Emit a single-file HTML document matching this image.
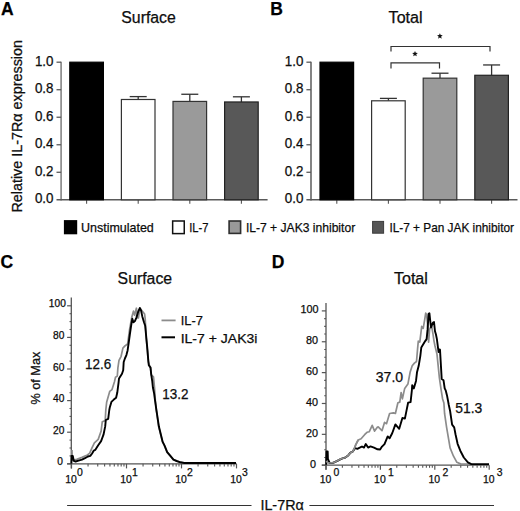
<!DOCTYPE html>
<html><head><meta charset="utf-8"><style>
html,body{margin:0;padding:0;background:#fff;}
svg{display:block;}
svg text{font-family:"Liberation Sans",sans-serif;stroke:currentColor;stroke-width:0.25px;}
</style></head><body>
<svg width="520" height="511" viewBox="0 0 520 511">
<rect width="520" height="511" fill="#fff"/>
<text x="1.0" y="14.8" font-size="17.5" text-anchor="start" font-weight="bold" fill="#000" >A</text>
<text x="270.2" y="14.8" font-size="17.5" text-anchor="start" font-weight="bold" fill="#000" >B</text>
<text x="0.6" y="267.6" font-size="17.5" text-anchor="start" font-weight="bold" fill="#000" >C</text>
<text x="271.8" y="267.6" font-size="17.5" text-anchor="start" font-weight="bold" fill="#000" >D</text>
<text x="121.3" y="22.5" font-size="16" text-anchor="start" font-weight="normal" fill="#111" textLength="54.5" lengthAdjust="spacingAndGlyphs" >Surface</text>
<text x="388.6" y="22.7" font-size="16" text-anchor="start" font-weight="normal" fill="#111" textLength="34" lengthAdjust="spacingAndGlyphs" >Total</text>
<text x="117.6" y="283.6" font-size="16" text-anchor="start" font-weight="normal" fill="#111" textLength="54.5" lengthAdjust="spacingAndGlyphs" >Surface</text>
<text x="393.9" y="283.6" font-size="16" text-anchor="start" font-weight="normal" fill="#111" textLength="34" lengthAdjust="spacingAndGlyphs" >Total</text>
<line x1="61.1" y1="61.70000000000002" x2="61.1" y2="200.5" stroke="#858585" stroke-width="1.6"/>
<line x1="56.5" y1="199.8" x2="267.6" y2="199.8" stroke="#5a5a5a" stroke-width="1.4"/>
<line x1="56.5" y1="62.20000000000002" x2="61.1" y2="62.20000000000002" stroke="#5a5a5a" stroke-width="1.3"/>
<line x1="56.5" y1="89.72000000000001" x2="61.1" y2="89.72000000000001" stroke="#5a5a5a" stroke-width="1.3"/>
<line x1="56.5" y1="117.24000000000002" x2="61.1" y2="117.24000000000002" stroke="#5a5a5a" stroke-width="1.3"/>
<line x1="56.5" y1="144.76000000000002" x2="61.1" y2="144.76000000000002" stroke="#5a5a5a" stroke-width="1.3"/>
<line x1="56.5" y1="172.28" x2="61.1" y2="172.28" stroke="#5a5a5a" stroke-width="1.3"/>
<text x="34.900000000000006" y="65.70000000000002" font-size="14.6" text-anchor="start" font-weight="normal" fill="#111" textLength="18.6" lengthAdjust="spacingAndGlyphs" >1.0</text>
<text x="34.900000000000006" y="93.22000000000001" font-size="14.6" text-anchor="start" font-weight="normal" fill="#111" textLength="18.6" lengthAdjust="spacingAndGlyphs" >0.8</text>
<text x="34.900000000000006" y="120.74000000000002" font-size="14.6" text-anchor="start" font-weight="normal" fill="#111" textLength="18.6" lengthAdjust="spacingAndGlyphs" >0.6</text>
<text x="34.900000000000006" y="148.26000000000002" font-size="14.6" text-anchor="start" font-weight="normal" fill="#111" textLength="18.6" lengthAdjust="spacingAndGlyphs" >0.4</text>
<text x="34.900000000000006" y="175.78" font-size="14.6" text-anchor="start" font-weight="normal" fill="#111" textLength="18.6" lengthAdjust="spacingAndGlyphs" >0.2</text>
<text x="34.900000000000006" y="203.3" font-size="14.6" text-anchor="start" font-weight="normal" fill="#111" textLength="18.6" lengthAdjust="spacingAndGlyphs" >0.0</text>
<line x1="86.6" y1="199.8" x2="86.6" y2="203.8" stroke="#555" stroke-width="1.1"/>
<rect x="69.8" y="62.20000000000002" width="33.599999999999994" height="137.6" fill="#000" stroke="#000" stroke-width="1.2"/>
<line x1="138.20000000000002" y1="199.8" x2="138.20000000000002" y2="203.8" stroke="#555" stroke-width="1.1"/>
<line x1="138.20000000000002" y1="99.48960000000002" x2="138.20000000000002" y2="96.60000000000002" stroke="#333" stroke-width="1.3"/>
<line x1="129.70000000000002" y1="96.60000000000002" x2="146.70000000000002" y2="96.60000000000002" stroke="#333" stroke-width="1.3"/>
<rect x="121.4" y="99.48960000000002" width="33.599999999999994" height="100.31039999999999" fill="#fff" stroke="#333" stroke-width="1.2"/>
<line x1="189.8" y1="199.8" x2="189.8" y2="203.8" stroke="#555" stroke-width="1.1"/>
<line x1="189.8" y1="101.41600000000003" x2="189.8" y2="94.26080000000002" stroke="#333" stroke-width="1.3"/>
<line x1="181.3" y1="94.26080000000002" x2="198.3" y2="94.26080000000002" stroke="#333" stroke-width="1.3"/>
<rect x="173.0" y="101.41600000000003" width="33.599999999999994" height="98.38399999999999" fill="#9a9a9a" stroke="#333" stroke-width="1.2"/>
<line x1="241.4" y1="199.8" x2="241.4" y2="203.8" stroke="#555" stroke-width="1.1"/>
<line x1="241.4" y1="101.96640000000002" x2="241.4" y2="96.80640000000002" stroke="#333" stroke-width="1.3"/>
<line x1="232.9" y1="96.80640000000002" x2="249.9" y2="96.80640000000002" stroke="#333" stroke-width="1.3"/>
<rect x="224.6" y="101.96640000000002" width="33.599999999999994" height="97.83359999999999" fill="#585858" stroke="#222" stroke-width="1.2"/>
<line x1="311.0" y1="61.70000000000002" x2="311.0" y2="200.5" stroke="#666" stroke-width="1.6"/>
<line x1="306.4" y1="199.8" x2="517.5" y2="199.8" stroke="#5a5a5a" stroke-width="1.4"/>
<line x1="306.4" y1="62.20000000000002" x2="311.0" y2="62.20000000000002" stroke="#5a5a5a" stroke-width="1.3"/>
<line x1="306.4" y1="89.72000000000001" x2="311.0" y2="89.72000000000001" stroke="#5a5a5a" stroke-width="1.3"/>
<line x1="306.4" y1="117.24000000000002" x2="311.0" y2="117.24000000000002" stroke="#5a5a5a" stroke-width="1.3"/>
<line x1="306.4" y1="144.76000000000002" x2="311.0" y2="144.76000000000002" stroke="#5a5a5a" stroke-width="1.3"/>
<line x1="306.4" y1="172.28" x2="311.0" y2="172.28" stroke="#5a5a5a" stroke-width="1.3"/>
<text x="284.8" y="65.70000000000002" font-size="14.6" text-anchor="start" font-weight="normal" fill="#111" textLength="18.6" lengthAdjust="spacingAndGlyphs" >1.0</text>
<text x="284.8" y="93.22000000000001" font-size="14.6" text-anchor="start" font-weight="normal" fill="#111" textLength="18.6" lengthAdjust="spacingAndGlyphs" >0.8</text>
<text x="284.8" y="120.74000000000002" font-size="14.6" text-anchor="start" font-weight="normal" fill="#111" textLength="18.6" lengthAdjust="spacingAndGlyphs" >0.6</text>
<text x="284.8" y="148.26000000000002" font-size="14.6" text-anchor="start" font-weight="normal" fill="#111" textLength="18.6" lengthAdjust="spacingAndGlyphs" >0.4</text>
<text x="284.8" y="175.78" font-size="14.6" text-anchor="start" font-weight="normal" fill="#111" textLength="18.6" lengthAdjust="spacingAndGlyphs" >0.2</text>
<text x="284.8" y="203.3" font-size="14.6" text-anchor="start" font-weight="normal" fill="#111" textLength="18.6" lengthAdjust="spacingAndGlyphs" >0.0</text>
<line x1="336.79999999999995" y1="199.8" x2="336.79999999999995" y2="203.8" stroke="#555" stroke-width="1.1"/>
<rect x="320.0" y="62.20000000000002" width="33.599999999999994" height="137.6" fill="#000" stroke="#000" stroke-width="1.2"/>
<line x1="388.4" y1="199.8" x2="388.4" y2="203.8" stroke="#555" stroke-width="1.1"/>
<line x1="388.4" y1="100.7968" x2="388.4" y2="98.38880000000002" stroke="#333" stroke-width="1.3"/>
<line x1="379.9" y1="98.38880000000002" x2="396.9" y2="98.38880000000002" stroke="#333" stroke-width="1.3"/>
<rect x="371.6" y="100.7968" width="33.599999999999994" height="99.0032" fill="#fff" stroke="#333" stroke-width="1.2"/>
<line x1="439.99999999999994" y1="199.8" x2="439.99999999999994" y2="203.8" stroke="#555" stroke-width="1.1"/>
<line x1="439.99999999999994" y1="78.16160000000002" x2="439.99999999999994" y2="73.20800000000001" stroke="#333" stroke-width="1.3"/>
<line x1="431.49999999999994" y1="73.20800000000001" x2="448.49999999999994" y2="73.20800000000001" stroke="#333" stroke-width="1.3"/>
<rect x="423.2" y="78.16160000000002" width="33.599999999999994" height="121.63839999999999" fill="#9a9a9a" stroke="#333" stroke-width="1.2"/>
<line x1="491.59999999999997" y1="199.8" x2="491.59999999999997" y2="203.8" stroke="#555" stroke-width="1.1"/>
<line x1="491.59999999999997" y1="75.27200000000002" x2="491.59999999999997" y2="64.95200000000003" stroke="#333" stroke-width="1.3"/>
<line x1="483.09999999999997" y1="64.95200000000003" x2="500.09999999999997" y2="64.95200000000003" stroke="#333" stroke-width="1.3"/>
<rect x="474.8" y="75.27200000000002" width="33.599999999999994" height="124.52799999999999" fill="#585858" stroke="#222" stroke-width="1.2"/>
<path d="M391,51.5 V46.5 H490 V51.5" fill="none" stroke="#333" stroke-width="1.2"/>
<path d="M391,68.5 V62.8 H439.5 V68.5" fill="none" stroke="#333" stroke-width="1.2"/>
<polygon points="439.90,33.20 440.69,35.11 442.75,35.27 441.18,36.62 441.66,38.63 439.90,37.55 438.14,38.63 438.62,36.62 437.05,35.27 439.11,35.11" fill="#111"/>
<polygon points="415.00,50.90 415.79,52.81 417.85,52.97 416.28,54.32 416.76,56.33 415.00,55.25 413.24,56.33 413.72,54.32 412.15,52.97 414.21,52.81" fill="#111"/>
<text transform="translate(21.8,212.6) rotate(-90)" x="0" y="0" font-size="14" fill="#111" textLength="172.6" lengthAdjust="spacingAndGlyphs">Relative IL-7Rα expression</text>
<rect x="63.9" y="220.1" width="13.3" height="14.2" fill="#000"/>
<text x="81" y="232.4" font-size="13" text-anchor="start" font-weight="normal" fill="#111" textLength="72.8" lengthAdjust="spacingAndGlyphs" >Unstimulated</text>
<rect x="172.65" y="221.0" width="11.6" height="12.6" fill="#fff" stroke="#111" stroke-width="1.5"/>
<text x="189.2" y="232.4" font-size="13" text-anchor="start" font-weight="normal" fill="#111" textLength="19.2" lengthAdjust="spacingAndGlyphs" >IL-7</text>
<rect x="229.1" y="221.0" width="11.5" height="12.4" fill="#999" stroke="#2e2e2e" stroke-width="1.6"/>
<text x="245.9" y="232.4" font-size="13" text-anchor="start" font-weight="normal" fill="#111" textLength="109.3" lengthAdjust="spacingAndGlyphs" >IL-7 + JAK3 inhibitor</text>
<rect x="372.6" y="221.4" width="11.0" height="11.8" fill="#555" stroke="#3c3c3c" stroke-width="1"/>
<text x="389.4" y="232.4" font-size="13" text-anchor="start" font-weight="normal" fill="#111" textLength="124.6" lengthAdjust="spacingAndGlyphs" >IL-7 + Pan JAK inhibitor</text>
<line x1="71.3" y1="297.5" x2="71.3" y2="468.40000000000003" stroke="#555" stroke-width="1.3"/>
<line x1="67.1" y1="463.8" x2="236.6" y2="463.8" stroke="#555" stroke-width="1.3"/>
<line x1="67.1" y1="463.8" x2="71.3" y2="463.8" stroke="#555" stroke-width="1.2"/>
<text x="63.00000000000001" y="465.40000000000003" font-size="10.2" text-anchor="end" font-weight="normal" fill="#111" >0</text>
<line x1="69.5" y1="455.90000000000003" x2="71.3" y2="455.90000000000003" stroke="#555" stroke-width="1.1"/>
<line x1="69.5" y1="448.0" x2="71.3" y2="448.0" stroke="#555" stroke-width="1.1"/>
<line x1="69.5" y1="440.1" x2="71.3" y2="440.1" stroke="#555" stroke-width="1.1"/>
<line x1="67.1" y1="432.2" x2="71.3" y2="432.2" stroke="#555" stroke-width="1.2"/>
<text x="64.4" y="433.8" font-size="10.2" text-anchor="end" font-weight="normal" fill="#111" >20</text>
<line x1="69.5" y1="424.3" x2="71.3" y2="424.3" stroke="#555" stroke-width="1.1"/>
<line x1="69.5" y1="416.4" x2="71.3" y2="416.4" stroke="#555" stroke-width="1.1"/>
<line x1="69.5" y1="408.5" x2="71.3" y2="408.5" stroke="#555" stroke-width="1.1"/>
<line x1="67.1" y1="400.6" x2="71.3" y2="400.6" stroke="#555" stroke-width="1.2"/>
<text x="64.4" y="402.20000000000005" font-size="10.2" text-anchor="end" font-weight="normal" fill="#111" >40</text>
<line x1="69.5" y1="392.7" x2="71.3" y2="392.7" stroke="#555" stroke-width="1.1"/>
<line x1="69.5" y1="384.8" x2="71.3" y2="384.8" stroke="#555" stroke-width="1.1"/>
<line x1="69.5" y1="376.9" x2="71.3" y2="376.9" stroke="#555" stroke-width="1.1"/>
<line x1="67.1" y1="369.0" x2="71.3" y2="369.0" stroke="#555" stroke-width="1.2"/>
<text x="64.4" y="370.6" font-size="10.2" text-anchor="end" font-weight="normal" fill="#111" >60</text>
<line x1="69.5" y1="361.1" x2="71.3" y2="361.1" stroke="#555" stroke-width="1.1"/>
<line x1="69.5" y1="353.2" x2="71.3" y2="353.2" stroke="#555" stroke-width="1.1"/>
<line x1="69.5" y1="345.3" x2="71.3" y2="345.3" stroke="#555" stroke-width="1.1"/>
<line x1="67.1" y1="337.4" x2="71.3" y2="337.4" stroke="#555" stroke-width="1.2"/>
<text x="64.4" y="339.0" font-size="10.2" text-anchor="end" font-weight="normal" fill="#111" >80</text>
<line x1="69.5" y1="329.5" x2="71.3" y2="329.5" stroke="#555" stroke-width="1.1"/>
<line x1="69.5" y1="321.6" x2="71.3" y2="321.6" stroke="#555" stroke-width="1.1"/>
<line x1="69.5" y1="313.70000000000005" x2="71.3" y2="313.70000000000005" stroke="#555" stroke-width="1.1"/>
<line x1="67.1" y1="305.8" x2="71.3" y2="305.8" stroke="#555" stroke-width="1.2"/>
<text x="65.80000000000001" y="307.40000000000003" font-size="10.2" text-anchor="end" font-weight="normal" fill="#111" >100</text>
<line x1="88.05664976151897" y1="463.8" x2="88.05664976151897" y2="466.40000000000003" stroke="#555" stroke-width="1.1"/>
<line x1="97.74166900958143" y1="463.8" x2="97.74166900958143" y2="466.40000000000003" stroke="#555" stroke-width="1.1"/>
<line x1="104.61329952303794" y1="463.8" x2="104.61329952303794" y2="466.40000000000003" stroke="#555" stroke-width="1.1"/>
<line x1="109.94335023848103" y1="463.8" x2="109.94335023848103" y2="466.40000000000003" stroke="#555" stroke-width="1.1"/>
<line x1="114.2983187711004" y1="463.8" x2="114.2983187711004" y2="466.40000000000003" stroke="#555" stroke-width="1.1"/>
<line x1="117.98039220078412" y1="463.8" x2="117.98039220078412" y2="466.40000000000003" stroke="#555" stroke-width="1.1"/>
<line x1="121.16994928455689" y1="463.8" x2="121.16994928455689" y2="466.40000000000003" stroke="#555" stroke-width="1.1"/>
<line x1="123.98333801916286" y1="463.8" x2="123.98333801916286" y2="466.40000000000003" stroke="#555" stroke-width="1.1"/>
<line x1="143.05664976151897" y1="463.8" x2="143.05664976151897" y2="466.40000000000003" stroke="#555" stroke-width="1.1"/>
<line x1="152.74166900958141" y1="463.8" x2="152.74166900958141" y2="466.40000000000003" stroke="#555" stroke-width="1.1"/>
<line x1="159.61329952303794" y1="463.8" x2="159.61329952303794" y2="466.40000000000003" stroke="#555" stroke-width="1.1"/>
<line x1="164.94335023848103" y1="463.8" x2="164.94335023848103" y2="466.40000000000003" stroke="#555" stroke-width="1.1"/>
<line x1="169.2983187711004" y1="463.8" x2="169.2983187711004" y2="466.40000000000003" stroke="#555" stroke-width="1.1"/>
<line x1="172.98039220078414" y1="463.8" x2="172.98039220078414" y2="466.40000000000003" stroke="#555" stroke-width="1.1"/>
<line x1="176.16994928455688" y1="463.8" x2="176.16994928455688" y2="466.40000000000003" stroke="#555" stroke-width="1.1"/>
<line x1="178.98333801916286" y1="463.8" x2="178.98333801916286" y2="466.40000000000003" stroke="#555" stroke-width="1.1"/>
<line x1="198.05664976151897" y1="463.8" x2="198.05664976151897" y2="466.40000000000003" stroke="#555" stroke-width="1.1"/>
<line x1="207.74166900958144" y1="463.8" x2="207.74166900958144" y2="466.40000000000003" stroke="#555" stroke-width="1.1"/>
<line x1="214.61329952303794" y1="463.8" x2="214.61329952303794" y2="466.40000000000003" stroke="#555" stroke-width="1.1"/>
<line x1="219.94335023848103" y1="463.8" x2="219.94335023848103" y2="466.40000000000003" stroke="#555" stroke-width="1.1"/>
<line x1="224.2983187711004" y1="463.8" x2="224.2983187711004" y2="466.40000000000003" stroke="#555" stroke-width="1.1"/>
<line x1="227.98039220078414" y1="463.8" x2="227.98039220078414" y2="466.40000000000003" stroke="#555" stroke-width="1.1"/>
<line x1="231.1699492845569" y1="463.8" x2="231.1699492845569" y2="466.40000000000003" stroke="#555" stroke-width="1.1"/>
<line x1="233.98333801916286" y1="463.8" x2="233.98333801916286" y2="466.40000000000003" stroke="#555" stroke-width="1.1"/>
<line x1="71.5" y1="463.8" x2="71.5" y2="468.40000000000003" stroke="#555" stroke-width="1.2"/>
<text x="65.2" y="483.3" font-size="11" text-anchor="start" font-weight="normal" fill="#111" textLength="11.6" lengthAdjust="spacingAndGlyphs" >10</text>
<text x="77.1" y="476.4" font-size="11" text-anchor="start" font-weight="normal" fill="#111" textLength="5.8" lengthAdjust="spacingAndGlyphs" >0</text>
<line x1="126.5" y1="463.8" x2="126.5" y2="468.40000000000003" stroke="#555" stroke-width="1.2"/>
<text x="120.2" y="483.3" font-size="11" text-anchor="start" font-weight="normal" fill="#111" textLength="11.6" lengthAdjust="spacingAndGlyphs" >10</text>
<text x="132.1" y="476.4" font-size="11" text-anchor="start" font-weight="normal" fill="#111" textLength="5.8" lengthAdjust="spacingAndGlyphs" >1</text>
<line x1="181.5" y1="463.8" x2="181.5" y2="468.40000000000003" stroke="#555" stroke-width="1.2"/>
<text x="175.2" y="483.3" font-size="11" text-anchor="start" font-weight="normal" fill="#111" textLength="11.6" lengthAdjust="spacingAndGlyphs" >10</text>
<text x="187.1" y="476.4" font-size="11" text-anchor="start" font-weight="normal" fill="#111" textLength="5.8" lengthAdjust="spacingAndGlyphs" >2</text>
<line x1="236.5" y1="463.8" x2="236.5" y2="468.40000000000003" stroke="#555" stroke-width="1.2"/>
<text x="230.2" y="483.3" font-size="11" text-anchor="start" font-weight="normal" fill="#111" textLength="11.6" lengthAdjust="spacingAndGlyphs" >10</text>
<text x="242.1" y="476.4" font-size="11" text-anchor="start" font-weight="normal" fill="#111" textLength="5.8" lengthAdjust="spacingAndGlyphs" >3</text>
<path d="M72.0,450.0 L72.3,460.5 L73.2,460.0 L76.8,459.4 L82.0,457.4 L87.4,455.0 L89.7,453.2 L92.1,447.6 L94.4,442.9 L98.2,439.4 L101.1,431.1 L102.3,421.7 L105.2,420.6 L105.8,410.0 L106.7,401.9 L109.7,391.4 L112.0,389.6 L114.4,382.0 L115.5,377.3 L117.3,376.1 L117.9,367.9 L119.0,360.3 L121.1,356.3 L122.9,348.1 L125.2,345.7 L127.6,344.0 L129.5,330.0 L131.7,317.6 L133.5,311.1 L134.6,315.2 L136.4,308.2 L137.6,318.0 L138.4,318.0 L139.9,308.2 L142.8,311.7 L144.6,314.0 L145.2,318.8 L146.2,338.0 L147.3,350.0 L148.3,362.0 L150.3,368.0 L151.3,375.0 L153.5,377.0 L154.5,387.5 L155.3,400.0 L156.3,410.0 L158.7,426.6 L160.6,434.3 L162.5,441.9 L164.4,445.7 L167.0,452.1 L170.2,455.9 L173.3,459.7 L176.5,461.0 L180.3,462.3 L184.4,463.0" fill="none" stroke="#8c8c8c" stroke-width="1.7" stroke-linejoin="round"/>
<path d="M71.4,463.5 L71.6,456.0 L72.8,456.0 L73.8,460.9 L75.6,461.5 L78.5,460.6 L82.0,459.7 L85.0,458.2 L87.9,456.5 L90.3,455.9 L92.1,453.5 L93.8,450.6 L95.2,449.9 L98.2,445.2 L101.1,441.1 L103.5,434.7 L105.2,426.4 L105.8,420.0 L108.2,418.8 L109.3,410.0 L109.7,407.8 L111.4,401.9 L113.8,399.6 L116.1,397.8 L117.3,392.5 L118.5,383.2 L119.0,378.5 L122.0,373.8 L123.2,370.2 L123.7,362.0 L124.9,358.5 L126.4,355.1 L127.6,350.4 L128.8,342.2 L129.9,334.0 L131.1,325.8 L132.3,318.8 L133.5,322.3 L134.9,321.1 L136.4,317.6 L138.2,311.7 L139.9,308.0 L141.1,310.6 L142.3,316.4 L144.0,322.3 L145.2,325.8 L146.4,338.7 L147.5,350.4 L148.2,359.4 L148.8,365.2 L150.6,367.6 L151.1,373.5 L152.3,381.7 L152.9,387.5 L154.1,393.4 L155.2,401.6 L156.4,410.0 L157.0,413.9 L158.9,426.6 L160.8,434.3 L162.7,441.9 L164.6,445.7 L167.2,452.1 L170.4,455.9 L173.5,459.7 L176.7,461.0 L180.5,462.3 L184.4,463.0 L236.0,463.0" fill="none" stroke="#000" stroke-width="1.9" stroke-linejoin="round"/>
<line x1="326.0" y1="302.9" x2="326.0" y2="469.8" stroke="#555" stroke-width="1.3"/>
<line x1="321.8" y1="465.2" x2="489.2" y2="465.2" stroke="#555" stroke-width="1.3"/>
<line x1="321.8" y1="465.2" x2="326.0" y2="465.2" stroke="#555" stroke-width="1.2"/>
<text x="316.09999999999997" y="467.59999999999997" font-size="10.8" text-anchor="end" font-weight="normal" fill="#111" >0</text>
<line x1="324.2" y1="457.485" x2="326.0" y2="457.485" stroke="#555" stroke-width="1.1"/>
<line x1="324.2" y1="449.77" x2="326.0" y2="449.77" stroke="#555" stroke-width="1.1"/>
<line x1="324.2" y1="442.055" x2="326.0" y2="442.055" stroke="#555" stroke-width="1.1"/>
<line x1="321.8" y1="434.34" x2="326.0" y2="434.34" stroke="#555" stroke-width="1.2"/>
<text x="317.9" y="436.73999999999995" font-size="10.8" text-anchor="end" font-weight="normal" fill="#111" >20</text>
<line x1="324.2" y1="426.625" x2="326.0" y2="426.625" stroke="#555" stroke-width="1.1"/>
<line x1="324.2" y1="418.90999999999997" x2="326.0" y2="418.90999999999997" stroke="#555" stroke-width="1.1"/>
<line x1="324.2" y1="411.195" x2="326.0" y2="411.195" stroke="#555" stroke-width="1.1"/>
<line x1="321.8" y1="403.48" x2="326.0" y2="403.48" stroke="#555" stroke-width="1.2"/>
<text x="317.9" y="405.88" font-size="10.8" text-anchor="end" font-weight="normal" fill="#111" >40</text>
<line x1="324.2" y1="395.765" x2="326.0" y2="395.765" stroke="#555" stroke-width="1.1"/>
<line x1="324.2" y1="388.05" x2="326.0" y2="388.05" stroke="#555" stroke-width="1.1"/>
<line x1="324.2" y1="380.335" x2="326.0" y2="380.335" stroke="#555" stroke-width="1.1"/>
<line x1="321.8" y1="372.62" x2="326.0" y2="372.62" stroke="#555" stroke-width="1.2"/>
<text x="317.9" y="375.02" font-size="10.8" text-anchor="end" font-weight="normal" fill="#111" >60</text>
<line x1="324.2" y1="364.905" x2="326.0" y2="364.905" stroke="#555" stroke-width="1.1"/>
<line x1="324.2" y1="357.19" x2="326.0" y2="357.19" stroke="#555" stroke-width="1.1"/>
<line x1="324.2" y1="349.475" x2="326.0" y2="349.475" stroke="#555" stroke-width="1.1"/>
<line x1="321.8" y1="341.76" x2="326.0" y2="341.76" stroke="#555" stroke-width="1.2"/>
<text x="317.9" y="344.15999999999997" font-size="10.8" text-anchor="end" font-weight="normal" fill="#111" >80</text>
<line x1="324.2" y1="334.04499999999996" x2="326.0" y2="334.04499999999996" stroke="#555" stroke-width="1.1"/>
<line x1="324.2" y1="326.33" x2="326.0" y2="326.33" stroke="#555" stroke-width="1.1"/>
<line x1="324.2" y1="318.615" x2="326.0" y2="318.615" stroke="#555" stroke-width="1.1"/>
<line x1="321.8" y1="310.9" x2="326.0" y2="310.9" stroke="#555" stroke-width="1.2"/>
<text x="318.59999999999997" y="313.29999999999995" font-size="10.8" text-anchor="end" font-weight="normal" fill="#111" >100</text>
<line x1="342.37603176412057" y1="465.2" x2="342.37603176412057" y2="467.8" stroke="#555" stroke-width="1.1"/>
<line x1="351.9553962567496" y1="465.2" x2="351.9553962567496" y2="467.8" stroke="#555" stroke-width="1.1"/>
<line x1="358.75206352824114" y1="465.2" x2="358.75206352824114" y2="467.8" stroke="#555" stroke-width="1.1"/>
<line x1="364.0239682358794" y1="465.2" x2="364.0239682358794" y2="467.8" stroke="#555" stroke-width="1.1"/>
<line x1="368.3314280208702" y1="465.2" x2="368.3314280208702" y2="467.8" stroke="#555" stroke-width="1.1"/>
<line x1="371.9733333767756" y1="465.2" x2="371.9733333767756" y2="467.8" stroke="#555" stroke-width="1.1"/>
<line x1="375.1280952923617" y1="465.2" x2="375.1280952923617" y2="467.8" stroke="#555" stroke-width="1.1"/>
<line x1="377.91079251349925" y1="465.2" x2="377.91079251349925" y2="467.8" stroke="#555" stroke-width="1.1"/>
<line x1="396.7760317641206" y1="465.2" x2="396.7760317641206" y2="467.8" stroke="#555" stroke-width="1.1"/>
<line x1="406.3553962567496" y1="465.2" x2="406.3553962567496" y2="467.8" stroke="#555" stroke-width="1.1"/>
<line x1="413.1520635282412" y1="465.2" x2="413.1520635282412" y2="467.8" stroke="#555" stroke-width="1.1"/>
<line x1="418.42396823587944" y1="465.2" x2="418.42396823587944" y2="467.8" stroke="#555" stroke-width="1.1"/>
<line x1="422.7314280208702" y1="465.2" x2="422.7314280208702" y2="467.8" stroke="#555" stroke-width="1.1"/>
<line x1="426.3733333767756" y1="465.2" x2="426.3733333767756" y2="467.8" stroke="#555" stroke-width="1.1"/>
<line x1="429.52809529236174" y1="465.2" x2="429.52809529236174" y2="467.8" stroke="#555" stroke-width="1.1"/>
<line x1="432.3107925134993" y1="465.2" x2="432.3107925134993" y2="467.8" stroke="#555" stroke-width="1.1"/>
<line x1="451.1760317641206" y1="465.2" x2="451.1760317641206" y2="467.8" stroke="#555" stroke-width="1.1"/>
<line x1="460.75539625674963" y1="465.2" x2="460.75539625674963" y2="467.8" stroke="#555" stroke-width="1.1"/>
<line x1="467.55206352824115" y1="465.2" x2="467.55206352824115" y2="467.8" stroke="#555" stroke-width="1.1"/>
<line x1="472.8239682358794" y1="465.2" x2="472.8239682358794" y2="467.8" stroke="#555" stroke-width="1.1"/>
<line x1="477.1314280208702" y1="465.2" x2="477.1314280208702" y2="467.8" stroke="#555" stroke-width="1.1"/>
<line x1="480.77333337677555" y1="465.2" x2="480.77333337677555" y2="467.8" stroke="#555" stroke-width="1.1"/>
<line x1="483.9280952923617" y1="465.2" x2="483.9280952923617" y2="467.8" stroke="#555" stroke-width="1.1"/>
<line x1="486.71079251349926" y1="465.2" x2="486.71079251349926" y2="467.8" stroke="#555" stroke-width="1.1"/>
<line x1="326.0" y1="465.2" x2="326.0" y2="469.8" stroke="#555" stroke-width="1.2"/>
<text x="319.7" y="483.3" font-size="11" text-anchor="start" font-weight="normal" fill="#111" textLength="11.6" lengthAdjust="spacingAndGlyphs" >10</text>
<text x="333.6" y="476.4" font-size="11" text-anchor="start" font-weight="normal" fill="#111" textLength="5.8" lengthAdjust="spacingAndGlyphs" >0</text>
<line x1="380.4" y1="465.2" x2="380.4" y2="469.8" stroke="#555" stroke-width="1.2"/>
<text x="374.09999999999997" y="483.3" font-size="11" text-anchor="start" font-weight="normal" fill="#111" textLength="11.6" lengthAdjust="spacingAndGlyphs" >10</text>
<text x="388.0" y="476.4" font-size="11" text-anchor="start" font-weight="normal" fill="#111" textLength="5.8" lengthAdjust="spacingAndGlyphs" >1</text>
<line x1="434.8" y1="465.2" x2="434.8" y2="469.8" stroke="#555" stroke-width="1.2"/>
<text x="428.5" y="483.3" font-size="11" text-anchor="start" font-weight="normal" fill="#111" textLength="11.6" lengthAdjust="spacingAndGlyphs" >10</text>
<text x="442.40000000000003" y="476.4" font-size="11" text-anchor="start" font-weight="normal" fill="#111" textLength="5.8" lengthAdjust="spacingAndGlyphs" >2</text>
<line x1="489.2" y1="465.2" x2="489.2" y2="469.8" stroke="#555" stroke-width="1.2"/>
<text x="482.9" y="483.3" font-size="11" text-anchor="start" font-weight="normal" fill="#111" textLength="11.6" lengthAdjust="spacingAndGlyphs" >10</text>
<text x="496.8" y="476.4" font-size="11" text-anchor="start" font-weight="normal" fill="#111" textLength="5.8" lengthAdjust="spacingAndGlyphs" >3</text>
<path d="M326.2,461.0 L327.5,462.5 L329.7,463.0 L333.5,462.7 L337.4,460.8 L341.2,458.8 L345.0,457.7 L348.2,455.4 L350.5,452.7 L352.8,451.5 L354.3,448.5 L355.8,444.6 L358.2,440.0 L361.1,438.8 L364.6,434.7 L367.0,432.3 L369.3,431.7 L372.2,425.3 L374.6,431.1 L377.5,427.0 L378.2,426.9 L382.0,430.7 L384.5,422.4 L386.5,423.7 L389.6,413.5 L393.4,412.9 L395.4,413.5 L397.9,402.7 L399.8,402.1 L401.1,392.5 L402.4,398.9 L404.7,388.4 L407.9,384.1 L410.1,372.3 L412.2,365.8 L414.4,363.1 L416.5,361.5 L417.6,348.6 L418.3,341.1 L419.8,342.1 L421.7,326.4 L423.2,328.4 L424.7,319.6 L425.7,313.2 L426.6,314.7 L427.6,324.5 L428.6,342.1 L429.6,329.4 L430.5,327.4 L431.5,325.4 L433.0,334.2 L434.0,341.1 L435.0,346.0 L437.0,354.4 L438.2,366.1 L439.4,377.8 L441.1,389.6 L442.6,399.0 L443.9,403.0 L444.6,413.7 L446.6,427.4 L448.7,439.7 L450.1,447.9 L453.5,456.2 L456.9,462.3 L461.0,464.1 L470.0,464.1" fill="none" stroke="#8c8c8c" stroke-width="1.7" stroke-linejoin="round"/>
<path d="M326.2,464.8 L326.5,451.5 L327.7,451.5 L327.9,458.8 L329.7,463.0 L333.5,462.7 L337.4,460.8 L341.2,458.8 L345.0,457.7 L348.2,455.4 L350.5,452.7 L352.8,451.5 L355.0,448.2 L357.4,448.8 L359.7,447.7 L362.0,446.5 L364.0,447.6 L365.8,444.0 L368.1,447.6 L370.5,446.4 L374.0,447.6 L377.5,449.3 L380.1,449.5 L382.0,446.6 L384.5,444.1 L387.7,436.4 L389.6,438.3 L392.2,433.3 L395.4,424.4 L399.2,428.8 L402.4,418.0 L404.9,418.6 L406.8,409.1 L408.1,402.7 L410.6,402.1 L411.9,390.0 L412.2,385.2 L413.8,388.4 L416.0,380.9 L417.0,372.3 L418.7,365.8 L420.3,356.1 L421.3,347.5 L423.7,343.5 L425.2,341.1 L426.6,339.1 L427.6,329.4 L428.6,313.7 L429.4,313.2 L430.1,319.6 L431.0,327.4 L433.0,322.5 L434.0,322.0 L435.0,331.3 L435.9,334.2 L436.9,339.1 L437.9,347.0 L438.6,352.0 L439.4,349.5 L440.0,349.7 L441.1,368.5 L441.7,379.0 L443.5,380.2 L444.7,388.4 L445.8,390.7 L447.0,395.4 L448.8,405.0 L450.1,411.0 L452.1,424.7 L454.2,427.4 L455.5,434.2 L457.6,443.8 L460.3,450.7 L463.8,457.5 L467.9,462.3 L471.3,464.1 L489.0,464.1" fill="none" stroke="#000" stroke-width="1.9" stroke-linejoin="round"/>
<path d="M326.2,461.0 L327.5,462.5 L329.7,463.0 L333.5,462.7 L337.4,460.8 L341.2,458.8 L345.0,457.7 L348.2,455.4 L350.5,452.7 L352.8,451.5 L354.3,448.5 L355.8,444.6 L358.2,440.0" fill="none" stroke="#8c8c8c" stroke-width="1.7" stroke-linejoin="round"/>
<line x1="161.5" y1="320.4" x2="175.6" y2="320.4" stroke="#8c8c8c" stroke-width="1.8"/>
<line x1="161.5" y1="337.3" x2="175.0" y2="337.3" stroke="#000" stroke-width="2"/>
<text x="180.8" y="325.3" font-size="13.5" text-anchor="start" font-weight="normal" fill="#111" textLength="22.1" lengthAdjust="spacingAndGlyphs" >IL-7</text>
<text x="180.7" y="342.6" font-size="13.5" text-anchor="start" font-weight="normal" fill="#111" textLength="76.7" lengthAdjust="spacingAndGlyphs" >IL-7 + JAK3i</text>
<text x="85.0" y="369.3" font-size="14.5" text-anchor="start" font-weight="normal" fill="#111" textLength="26.2" lengthAdjust="spacingAndGlyphs" >12.6</text>
<text x="162.3" y="399.2" font-size="14.5" text-anchor="start" font-weight="normal" fill="#111" textLength="26.2" lengthAdjust="spacingAndGlyphs" >13.2</text>
<text x="375.8" y="381.7" font-size="14.5" text-anchor="start" font-weight="normal" fill="#111" textLength="27.3" lengthAdjust="spacingAndGlyphs" >37.0</text>
<text x="455.3" y="412.7" font-size="14.6" text-anchor="start" font-weight="normal" fill="#111" textLength="27.0" lengthAdjust="spacingAndGlyphs" >51.3</text>
<text transform="translate(40.0,404.5) rotate(-90)" font-size="12" fill="#111" textLength="52.8" lengthAdjust="spacingAndGlyphs">% of Max</text>
<line x1="67.1" y1="505.5" x2="251.5" y2="505.5" stroke="#333" stroke-width="1.2"/>
<line x1="309.4" y1="505.5" x2="494" y2="505.5" stroke="#333" stroke-width="1.2"/>
<text x="260.4" y="509.7" font-size="14" text-anchor="start" font-weight="normal" fill="#111" textLength="43.4" lengthAdjust="spacingAndGlyphs" >IL-7Rα</text>
</svg>
</body></html>
